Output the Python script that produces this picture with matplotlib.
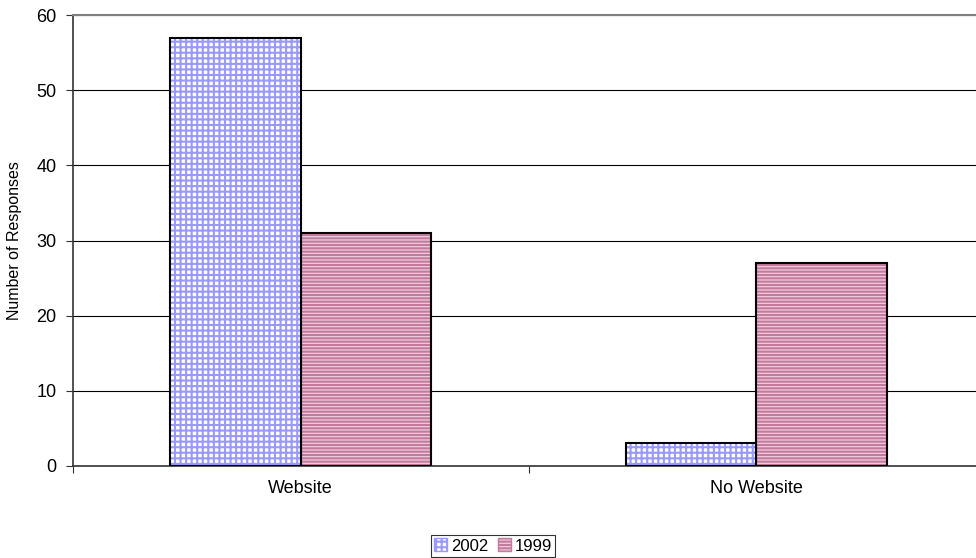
import matplotlib

matplotlib.use("Agg")
import matplotlib.pyplot as plt
import numpy as np
from matplotlib.patches import Patch

categories = ["Website", "No Website"]
series_names = ["2002", "1999"]
values_2002 = [57, 3]
values_1999 = [31, 27]

plt.rcParams["font.family"] = ["Liberation Sans", "DejaVu Sans"]
plt.rcParams["font.size"] = 13

fig = plt.figure(figsize=(9.76, 5.58), dpi=100)
ax = fig.add_axes([73 / 976, 92 / 558, 911 / 976, 451 / 558])

x = np.arange(len(categories))
w = 0.286

blue_face, blue_hatch = "white", "#9999FF"
pink_face, pink_hatch = "#F4CCDE", "#C27A9E"

plt.rcParams["hatch.linewidth"] = 1.5
# patterned fills: hatch drawn in edge colour, then black outline on top
ax.bar(x - w / 2, values_2002, w, color=blue_face, edgecolor=blue_hatch, hatch="+++", linewidth=0, zorder=3)
ax.bar(x + w / 2, values_1999, w, color=pink_face, edgecolor=pink_hatch, hatch="-----", linewidth=0, zorder=3)
ax.bar(x - w / 2, values_2002, w, color="none", edgecolor="black", linewidth=1.5, zorder=4)
ax.bar(x + w / 2, values_1999, w, color="none", edgecolor="black", linewidth=1.5, zorder=4)

ax.set_xlim(-0.5, 1.5)
ax.set_ylim(0, 60)
ax.set_yticks(range(0, 61, 10))
ax.yaxis.grid(True, color="black", linewidth=0.8, zorder=0)
ax.set_axisbelow(True)

ax.set_xticks([-0.5, 0.5, 1.5])
ax.set_xticklabels([])
ax.set_xticks(x, minor=True)
ax.set_xticklabels(categories, minor=True)
ax.tick_params(axis="x", which="minor", length=0, pad=10)
ax.tick_params(axis="x", which="major", length=5, color="#333333")
ax.tick_params(axis="y", length=5, color="#333333", pad=7)

ax.spines["right"].set_visible(False)
ax.spines["top"].set_color("#808080")
ax.spines["top"].set_linewidth(1.5)
for side in ["left", "bottom"]:
    ax.spines[side].set_color("#333333")
    ax.spines[side].set_linewidth(1.2)

ax.set_ylabel("Number of Responses", fontsize=11.5, labelpad=10)

handles = [
    Patch(facecolor=blue_face, edgecolor=blue_hatch, hatch="+++"),
    Patch(facecolor=pink_face, edgecolor=pink_hatch, hatch="-----"),
]
leg = fig.legend(handles, series_names, loc="center", bbox_to_anchor=(493 / 976, 1 - 546 / 558),
                 ncol=2, frameon=True, fancybox=False, handlelength=0.8, handleheight=0.8,
                 handletextpad=0.2, columnspacing=0.6, borderpad=0.2, fontsize=12)
leg.get_frame().set_edgecolor("black")
leg.get_frame().set_linewidth(0.8)

fig.savefig("out.png", dpi=100)
